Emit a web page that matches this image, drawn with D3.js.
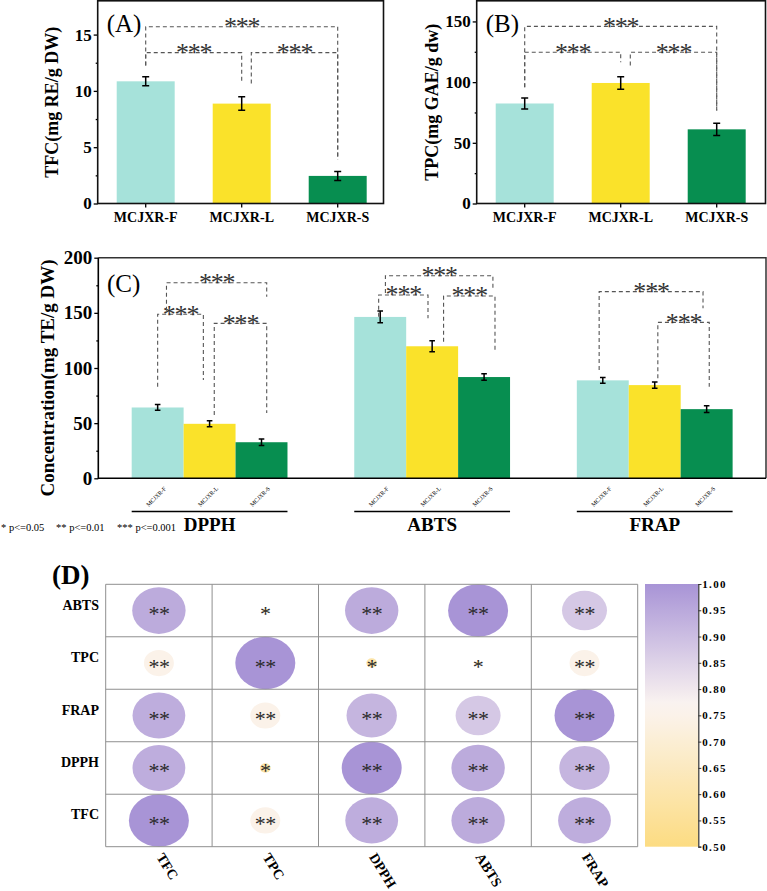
<!DOCTYPE html>
<html>
<head>
<meta charset="utf-8">
<script src="https://cdn.jsdelivr.net/npm/d3@7"></script>
<style>
  body { margin: 0; background: #fff; }
  svg { display: block; font-family: "Liberation Serif", "Times New Roman", serif; }
</style>
</head>
<body>
<svg id="chart" width="767" height="891"></svg>
<script>
const groups = ['MCJXR-F', 'MCJXR-L', 'MCJXR-S'];
const barColors = ['#a6e2da', '#fae22a', '#078e50'];

const tfcValues = [10.85, 8.87, 2.45];
const tfcErrors = [0.4, 0.6, 0.4];
const tfcTicks = [0, 5, 10, 15];

const tpcValues = [82.4, 99.3, 61.1];
const tpcErrors = [4.5, 5.2, 5.0];
const tpcTicks = [0, 50, 100, 150];

const assays = ['DPPH', 'ABTS', 'FRAP'];
const dpphValues = [64.2, 49.4, 32.7];
const dpphErrors = [2.6, 2.7, 3.0];
const abtsValues = [146.3, 119.7, 91.8];
const abtsErrors = [5.3, 5.0, 3.0];
const frapValues = [88.8, 84.5, 62.7];
const frapErrors = [2.6, 2.8, 3.0];
const concTicks = [0, 50, 100, 150, 200];

// significance brackets: [from bar, to bar, level, from-leg end, to-leg end] (bar index / value units)
const tfcBrackets = [[0, 2, 15.7, 12.25, 3.9], [0, 1, 13.4, 12.25, 10.65], [1.1, 2, 13.4, 10.65, 3.9]];
const tpcBrackets = [[0, 2, 145.9, 95.8, 76.7], [0, 1, 124.6, 95.8, 116.4], [1.1, 2, 124.6, 113.7, 76.7]];
const dpphBrackets = [[0, 0.88, 148.7, 83.0, 89.1], [1.09, 2.1, 140.5, 57.4, 59.2], [0.17, 2.1, 177.3, 152, 164.6]];
const abtsBrackets = [[-0.03, 0.92, 166.2, 146.5, 145], [1.22, 2.21, 165.3, 123.8, 114.2], [0.1, 2.17, 183.7, 168, 170.7]];
const frapBrackets = [[-0.07, 1.93, 169.2, 98.2, 154.1], [1.06, 2.05, 141.4, 90.7, 83.0]];

const corrVars = ['TFC', 'TPC', 'DPPH', 'ABTS', 'FRAP'];
const corrRows = ['ABTS', 'TPC', 'FRAP', 'DPPH', 'TFC'];
const corrValues = [
  // TFC   TPC   DPPH  ABTS   FRAP
  [1.00, 0.75, 0.94, 0.945, 0.94],  // TFC
  [0.75, 1.00, 0.59, 0.535, 0.75],  // TPC
  [0.94, 0.59, 1.00, 0.945, 0.92],  // DPPH
  [0.945, 0.535, 0.945, 1.00, 0.875], // ABTS
  [0.94, 0.75, 0.92, 0.875, 1.00]   // FRAP
];
const corrStars = [
  ['**', '**', '**', '**', '**'],
  ['**', '**', '*', '*', '**'],
  ['**', '*', '**', '**', '**'],
  ['**', '*', '**', '**', '**'],
  ['**', '**', '**', '**', '**']
];
const colorTicks = [0.5, 0.55, 0.6, 0.65, 0.7, 0.75, 0.8, 0.85, 0.9, 0.95, 1.0];

const svg = d3.select('#chart');
const starSize = 26;

function drawBrackets(g, list, xAt, y) {
  list.forEach(([a, b, level, ea, eb]) => {
    const x1 = xAt(a), x2 = xAt(b), yl = y(level);
    g.append('path')
      .attr('d', `M${x1},${y(ea)}V${yl}H${x2}V${y(eb)}`)
      .attr('fill', 'none').attr('stroke', '#555').attr('stroke-width', 1.1)
      .attr('stroke-dasharray', '4,3');
    g.append('text').attr('x', (x1 + x2) / 2).attr('y', yl + 8.5)
      .attr('text-anchor', 'middle').attr('font-size', starSize).attr('letter-spacing', -1.2)
      .attr('fill', '#333').text('***');
  });
}

function drawErrors(g, centers, values, errors, y, cap) {
  values.forEach((v, i) => {
    const cx = centers[i];
    g.append('path')
      .attr('d', `M${cx - cap},${y(v - errors[i])}H${cx + cap}M${cx},${y(v - errors[i])}V${y(v + errors[i])}M${cx - cap},${y(v + errors[i])}H${cx + cap}`)
      .attr('stroke', '#000').attr('stroke-width', 1.5).attr('fill', 'none');
  });
}

function styleAxis(g, size, weight) {
  g.select('.domain').remove();
  g.selectAll('line').attr('stroke', '#000').attr('stroke-width', 1.3);
  g.selectAll('text').attr('font-size', size).attr('font-weight', weight || 'bold')
    .attr('font-family', '"Liberation Serif", serif').attr('fill', '#000');
}

function barPanel(o) {
  const g = svg.append('g');
  const x = d3.scaleBand().domain(groups).range([o.left, o.left + 288]).paddingInner(0.396).paddingOuter(0.198);
  const y = d3.scaleLinear().domain([0, o.max]).range([o.bottom, o.top]);

  g.selectAll('rect.bar').data(o.values).join('rect').attr('class', 'bar')
    .attr('x', (d, i) => x(groups[i])).attr('width', x.bandwidth())
    .attr('y', d => y(d)).attr('height', d => y(0) - y(d))
    .attr('fill', (d, i) => barColors[i]);

  const centers = groups.map(k => x(k) + x.bandwidth() / 2);
  drawErrors(g, centers, o.values, o.errors, y, 3.5);
  drawBrackets(g, o.brackets, i => centers[0] + i * x.step(), y);

  const yAxis = g.append('g').attr('transform', `translate(${o.left},0)`)
    .call(d3.axisLeft(y).tickValues(o.ticks).tickSize(4).tickPadding(2));
  styleAxis(yAxis, 17);
  const minor = o.ticks.slice(0, -1).map((t, i) => (t + o.ticks[i + 1]) / 2);
  const yMinor = g.append('g').attr('transform', `translate(${o.left},0)`)
    .call(d3.axisLeft(y).tickValues(minor).tickSize(2).tickFormat(''));
  styleAxis(yMinor, 17);

  const xAxis = g.append('g').attr('transform', `translate(0,${o.bottom})`)
    .call(d3.axisBottom(x).tickSize(4).tickPadding(4.5));
  styleAxis(xAxis, 14);

  g.append('rect').attr('x', o.left).attr('y', o.top).attr('width', o.right - o.left)
    .attr('height', o.bottom - o.top).attr('fill', 'none').attr('stroke', '#111').attr('stroke-width', 1.6);

  g.append('text').attr('x', o.left + 9).attr('y', 32).attr('font-size', 25).text(o.tag);
  g.append('text').attr('transform', `translate(${o.titleX},${(o.top + o.bottom) / 2}) rotate(-90)`)
    .attr('text-anchor', 'middle').attr('dy', '0.35em').attr('font-size', 18).attr('font-weight', 'bold')
    .text(o.title);
}

barPanel({ left: 97.7, right: 383.5, top: 0.8, bottom: 203.5, max: 18, values: tfcValues, errors: tfcErrors,
  ticks: tfcTicks, brackets: tfcBrackets, tag: '(A)', title: 'TFC(mg RE/g DW)', titleX: 52 });
barPanel({ left: 476.7, right: 765.5, top: 0.8, bottom: 203.5, max: 167, values: tpcValues, errors: tpcErrors,
  ticks: tpcTicks, brackets: tpcBrackets, tag: '(B)', title: 'TPC(mg GAE/g dw)', titleX: 431.7 });

// ---- panel C
{
  const g = svg.append('g');
  const left = 98.3, right = 766, top = 257.7, bottom = 478.3;
  const xg = d3.scaleBand().domain(assays).range([left, right]).paddingInner(0.3).paddingOuter(0.15);
  const xs = d3.scaleBand().domain(groups).range([0, xg.bandwidth()]);
  const y = d3.scaleLinear().domain([0, 200]).range([bottom, top]);
  const values = [dpphValues, abtsValues, frapValues];
  const errors = [dpphErrors, abtsErrors, frapErrors];
  const brackets = [dpphBrackets, abtsBrackets, frapBrackets];

  assays.forEach((a, k) => {
    const ga = g.append('g').attr('transform', `translate(${xg(a)},0)`);
    ga.selectAll('rect').data(values[k]).join('rect')
      .attr('x', (d, i) => xs(groups[i])).attr('width', xs.bandwidth())
      .attr('y', d => y(d)).attr('height', d => y(0) - y(d))
      .attr('fill', (d, i) => barColors[i]);
    const centers = groups.map(s => xs(s) + xs.bandwidth() / 2);
    drawErrors(ga, centers, values[k], errors[k], y, 2.8);
    drawBrackets(ga, brackets[k], i => centers[0] + i * xs.bandwidth(), y);
    groups.forEach((s, i) => {
      ga.append('text').attr('transform', `translate(${centers[i]},498) rotate(-45)`)
        .attr('text-anchor', 'middle').attr('font-size', 6).text(s);
    });
    ga.append('line').attr('x1', 0).attr('x2', xg.bandwidth()).attr('y1', 511.5).attr('y2', 511.5)
      .attr('stroke', '#000').attr('stroke-width', 1.6);
    ga.append('text').attr('x', xg.bandwidth() / 2).attr('y', 531).attr('text-anchor', 'middle')
      .attr('font-size', 19).attr('font-weight', 'bold').text(a);
  });

  const yAxis = g.append('g').attr('transform', `translate(${left},0)`)
    .call(d3.axisLeft(y).tickValues(concTicks).tickSize(4).tickPadding(2));
  styleAxis(yAxis, 19);
  const minor = concTicks.slice(0, -1).map((t, i) => (t + concTicks[i + 1]) / 2);
  const yMinor = g.append('g').attr('transform', `translate(${left},0)`)
    .call(d3.axisLeft(y).tickValues(minor).tickSize(2).tickFormat(''));
  styleAxis(yMinor, 19);

  g.append('path').attr('d', `M${left},${top}H${right}V${bottom}`).attr('fill', 'none')
    .attr('stroke', '#333').attr('stroke-width', 1.5);
  g.append('path').attr('d', `M${left},${top}V${bottom}H${right}`).attr('fill', 'none')
    .attr('stroke', '#000').attr('stroke-width', 1.6);

  g.append('text').attr('x', 107).attr('y', 292).attr('font-size', 25).text('(C)');
  g.append('text').attr('transform', `translate(47,${(top + bottom) / 2 + 10}) rotate(-90)`)
    .attr('text-anchor', 'middle').attr('dy', '0.35em').attr('font-size', 19).attr('font-weight', 'bold')
    .text('Concentration(mg TE/g DW)');

  [['* p<=0.05', 1], ['** p<=0.01', 56], ['*** p<=0.001', 117]].forEach(([t, xx]) => {
    g.append('text').attr('x', xx).attr('y', 531).attr('font-size', 10.5).text(t);
  });
}

// ---- panel D
{
  const g = svg.append('g');
  const x = d3.scaleBand().domain(corrVars).range([105.7, 637.7]);
  const y = d3.scaleBand().domain(corrRows).range([584.3, 846.7]);
  const color = d3.scaleLinear().domain([0.5, 0.77, 1]).range(['#fcdc82', '#fbf4f1', '#a894d6']);
  const rx = d3.scaleLinear().domain([0.5, 1]).range([0, 30]);
  const ry = d3.scaleLinear().domain([0.5, 1]).range([0, y.bandwidth() / 2]);

  const cells = [];
  corrRows.forEach(r => corrVars.forEach((c, j) => {
    const i = corrVars.indexOf(r);
    cells.push({ r, c, v: corrValues[i][j], s: corrStars[i][j] });
  }));

  g.selectAll('ellipse').data(cells).join('ellipse')
    .attr('cx', d => x(d.c) + x.bandwidth() / 2).attr('cy', d => y(d.r) + y.bandwidth() / 2)
    .attr('rx', d => rx(d.v)).attr('ry', d => ry(d.v)).attr('fill', d => color(d.v));

  g.selectAll('text.sig').data(cells).join('text').attr('class', 'sig')
    .attr('x', d => x(d.c) + x.bandwidth() / 2).attr('y', d => y(d.r) + y.bandwidth() / 2 + 10.5)
    .attr('text-anchor', 'middle').attr('font-size', 22).attr('letter-spacing', -0.5)
    .attr('fill', '#2a2a2a').text(d => d.s);

  // grid
  const grid = g.append('g').attr('stroke', '#8f8f8f').attr('stroke-width', 1).attr('fill', 'none');
  corrVars.concat(['end']).forEach((c, i) => {
    const xx = 105.7 + i * x.bandwidth();
    grid.append('line').attr('x1', xx).attr('x2', xx).attr('y1', 584.3).attr('y2', 846.7);
  });
  corrRows.concat(['end']).forEach((r, i) => {
    const yy = 584.3 + i * y.bandwidth();
    grid.append('line').attr('x1', 105.7).attr('x2', 637.7).attr('y1', yy).attr('y2', yy);
  });

  g.selectAll('text.row').data(corrRows).join('text').attr('class', 'row')
    .attr('x', 99).attr('y', d => y(d) + y.bandwidth() / 2 - 1)
    .attr('text-anchor', 'end').attr('font-size', 14).attr('font-weight', 'bold').text(d => d);
  g.selectAll('text.col').data(corrVars).join('text').attr('class', 'col')
    .attr('transform', d => `translate(${x(d) + x.bandwidth() / 2 - 3},857) rotate(58)`)
    .attr('font-size', 14).attr('font-weight', 'bold').text(d => d);

  g.append('text').attr('x', 52).attr('y', 584).attr('font-size', 27).attr('font-weight', 'bold').text('(D)');

  // colour bar
  const cy = d3.scaleLinear().domain([0.5, 1]).range([846.7, 584]);
  const grad = svg.append('defs').append('linearGradient').attr('id', 'cbar')
    .attr('x1', 0).attr('y1', 1).attr('x2', 0).attr('y2', 0);
  d3.range(0, 1.0001, 0.05).forEach(t => {
    grad.append('stop').attr('offset', t).attr('stop-color', color(0.5 + t * 0.5));
  });
  g.append('rect').attr('x', 645).attr('y', 584).attr('width', 53.3).attr('height', 262.7).attr('fill', 'url(#cbar)');
  const cAxis = g.append('g').attr('transform', 'translate(698.3,0)')
    .call(d3.axisRight(cy).tickValues(colorTicks).tickSize(3).tickPadding(1).tickFormat(d3.format('.2f')));
  cAxis.select('.domain').attr('stroke', '#333').attr('stroke-width', 1.2);
  cAxis.selectAll('line').attr('stroke', '#333');
  cAxis.selectAll('text').attr('font-size', 11).attr('font-weight', 'bold').attr('letter-spacing', 1.3)
    .attr('font-family', '"Liberation Serif", serif').attr('fill', '#000');
}
</script>
</body>
</html>
